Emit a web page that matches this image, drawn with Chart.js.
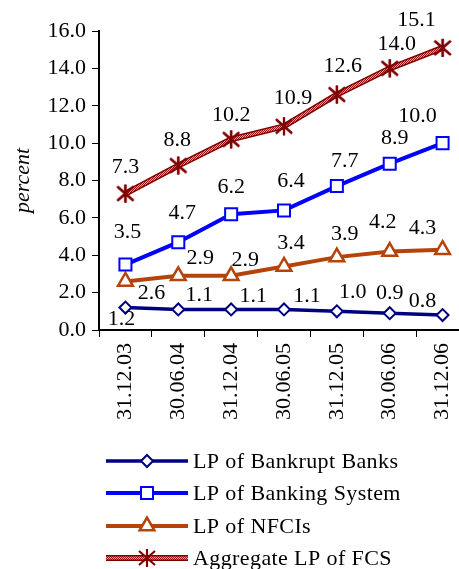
<!DOCTYPE html>
<html>
<head>
<meta charset="utf-8">
<script src="https://cdn.jsdelivr.net/npm/chart.js@4/dist/chart.umd.min.js"></script>
<style>
  html, body { margin: 0; padding: 0; background: #fff; overflow: hidden; }
  canvas { display: block; }
</style>
</head>
<body>
<canvas id="chart" width="480" height="569"></canvas>
<script>
// dates
const labels = ["31.12.03", "30.06.04", "31.12.04", "30.06.05", "31.12.05", "30.06.06", "31.12.06"];

// series
const bankrupt = [1.2, 1.1, 1.1, 1.1, 1.0, 0.9, 0.8];
const bankingSystem = [3.5, 4.7, 6.2, 6.4, 7.7, 8.9, 10.0];
const nfci = [2.6, 2.9, 2.9, 3.4, 3.9, 4.2, 4.3];
const aggregate = [7.3, 8.8, 10.2, 10.9, 12.6, 14.0, 15.1];

const serif = "'Liberation Serif', 'DejaVu Serif', serif";

// hatched inside of the red line
function hatch() {
  const c = document.createElement('canvas');
  c.width = 2; c.height = 2;
  const g = c.getContext('2d');
  g.fillStyle = '#e6a8a8';
  g.fillRect(0, 0, 2, 2);
  g.fillStyle = '#a01010';
  g.fillRect(0, 0, 1, 1);
  g.fillRect(1, 1, 1, 1);
  return g.createPattern(c, 'repeat');
}
const hatchFill = hatch();

// excel style asterisk: an x with a vertical bar
function asterisk() {
  const c = document.createElement('canvas');
  c.width = 20; c.height = 20;
  const g = c.getContext('2d');
  g.strokeStyle = '#800000';
  g.lineWidth = 2.2;
  g.beginPath();
  g.moveTo(10, 1); g.lineTo(10, 19);
  g.moveTo(2, 3); g.lineTo(18, 17);
  g.moveTo(18, 3); g.lineTo(2, 17);
  g.stroke();
  return c;
}
const starImg = asterisk();

// label shifts (px) from the point, per series
const shifts = [
  { dx: [-4, 21, 22, 23, 16, 0, -20], dy: [12, -14, -13, -13, -19, -20, -14] },
  { dx: [2, 4, 0, 7, 8, 5, -25], dy: [-32, -29, -27, -29, -25, -25, -27] },
  { dx: [26, 22, 14, 7, 8, -7, -20], dy: [12, -18, -16, -23, -23, -29, -21] },
  { dx: [0, -1, 0, 9, 6, 7, -26], dy: [-26, -25, -24, -28, -28, -24, -28] }
];

// hatch stroke over the dark red line, then stars again on top
const hatchLine = {
  id: 'hatchLine',
  afterDatasetDraw(chart, args) {
    if (args.index !== 3) return;
    const ctx = chart.ctx;
    const pts = args.meta.data;
    ctx.save();
    ctx.strokeStyle = hatchFill;
    ctx.lineWidth = 3;
    ctx.lineJoin = 'round';
    ctx.beginPath();
    pts.forEach((p, j) => j ? ctx.lineTo(p.x, p.y) : ctx.moveTo(p.x, p.y));
    ctx.stroke();
    ctx.restore();
    pts.forEach(p => p.draw(ctx, chart.chartArea));
  }
};

const valueLabels = {
  id: 'valueLabels',
  afterDatasetsDraw(chart) {
    const ctx = chart.ctx;
    ctx.save();
    ctx.font = '22px ' + serif;
    ctx.fillStyle = '#000';
    ctx.textAlign = 'center';
    ctx.textBaseline = 'middle';
    chart.data.datasets.forEach((ds, i) => {
      const meta = chart.getDatasetMeta(i);
      meta.data.forEach((pt, j) => {
        ctx.fillText(ds.data[j].toFixed(1), pt.x + shifts[i].dx[j], pt.y + shifts[i].dy[j]);
      });
    });
    ctx.restore();
  }
};

// legend: line with marker, stacked rows
const lineLegend = {
  id: 'lineLegend',
  afterDraw(chart) {
    const ctx = chart.ctx;
    const rows = [461, 493, 526, 558];
    ctx.save();
    chart.data.datasets.forEach((ds, i) => {
      const y = rows[i];
      ctx.strokeStyle = ds.borderColor;
      ctx.lineWidth = ds.borderWidth;
      ctx.beginPath();
      ctx.moveTo(106, y);
      ctx.lineTo(188, y);
      ctx.stroke();
      if (i === 3) {
        ctx.strokeStyle = hatchFill;
        ctx.lineWidth = 3;
        ctx.stroke();
      }
      ctx.fillStyle = ds.pointBackgroundColor;
      ctx.strokeStyle = ds.pointBorderColor;
      ctx.lineWidth = ds.pointBorderWidth;
      Chart.helpers.drawPoint(ctx, { pointStyle: ds.pointStyle, radius: ds.pointRadius, borderWidth: ds.pointBorderWidth }, 147, y);
      ctx.fillStyle = '#000';
      ctx.font = '22px ' + serif;
      ctx.letterSpacing = '0.4px';
      ctx.textAlign = 'left';
      ctx.textBaseline = 'middle';
      ctx.fillText(ds.label, 193, y + 1);
    });
    ctx.restore();
  }
};

const ctx = document.getElementById('chart').getContext('2d');
new Chart(ctx, {
  type: 'line',
  data: {
    labels: labels,
    datasets: [
      {
        label: 'LP of Bankrupt Banks',
        data: bankrupt,
        borderColor: '#000080',
        borderWidth: 3.5,
        pointStyle: 'rectRot',
        pointRadius: 6,
        pointBorderColor: '#000080',
        pointBackgroundColor: '#fff',
        pointBorderWidth: 2
      },
      {
        label: 'LP of Banking System',
        data: bankingSystem,
        borderColor: '#0000ff',
        borderWidth: 4,
        pointStyle: 'rect',
        pointRadius: 8.5,
        pointBorderColor: '#0000ff',
        pointBackgroundColor: '#fff',
        pointBorderWidth: 2
      },
      {
        label: 'LP of NFCIs',
        data: nfci,
        borderColor: '#b5440b',
        borderWidth: 4,
        pointStyle: 'triangle',
        pointRadius: 8.5,
        pointBorderColor: '#b5440b',
        pointBackgroundColor: '#fff',
        pointBorderWidth: 2.5
      },
      {
        label: 'Aggregate LP of FCS',
        data: aggregate,
        borderColor: '#7a0000',
        borderWidth: 6,
        pointStyle: starImg,
        pointRadius: 9,
        pointBorderColor: '#800000',
        pointBackgroundColor: '#800000',
        pointBorderWidth: 2
      }
    ]
  },
  options: {
    responsive: false,
    animation: false,
    devicePixelRatio: 1,
    layout: { padding: { left: 0, right: 0, top: 31, bottom: 129 } },
    plugins: {
      legend: { display: false },
      tooltip: { enabled: false }
    },
    elements: { line: { tension: 0 } },
    scales: {
      x: {
        offset: true,
        grid: { display: true, drawOnChartArea: false, drawTicks: true, tickLength: 7, color: '#000', offset: true },
        border: { display: true, color: '#000', width: 2 },
        ticks: {
          color: '#000',
          font: { family: serif, size: 22 },
          maxRotation: 90,
          minRotation: 90,
          padding: 6
        },
        afterFit(scale) {
          scale.height = 110;
        }
      },
      y: {
        min: 0,
        max: 16,
        grid: { display: true, drawOnChartArea: false, drawTicks: true, tickLength: 7, color: '#000' },
        border: { display: true, color: '#000', width: 2 },
        ticks: {
          stepSize: 2,
          color: '#000',
          font: { family: serif, size: 22 },
          padding: 6,
          callback: v => v.toFixed(1)
        },
        title: {
          display: true,
          text: 'percent',
          color: '#000',
          font: { family: serif, size: 22, style: 'italic' },
          padding: { top: 10, bottom: 0 }
        },
        afterFit(scale) {
          scale.width = 99;
        }
      }
    }
  },
  plugins: [hatchLine, valueLabels, lineLegend]
});
</script>
</body>
</html>
